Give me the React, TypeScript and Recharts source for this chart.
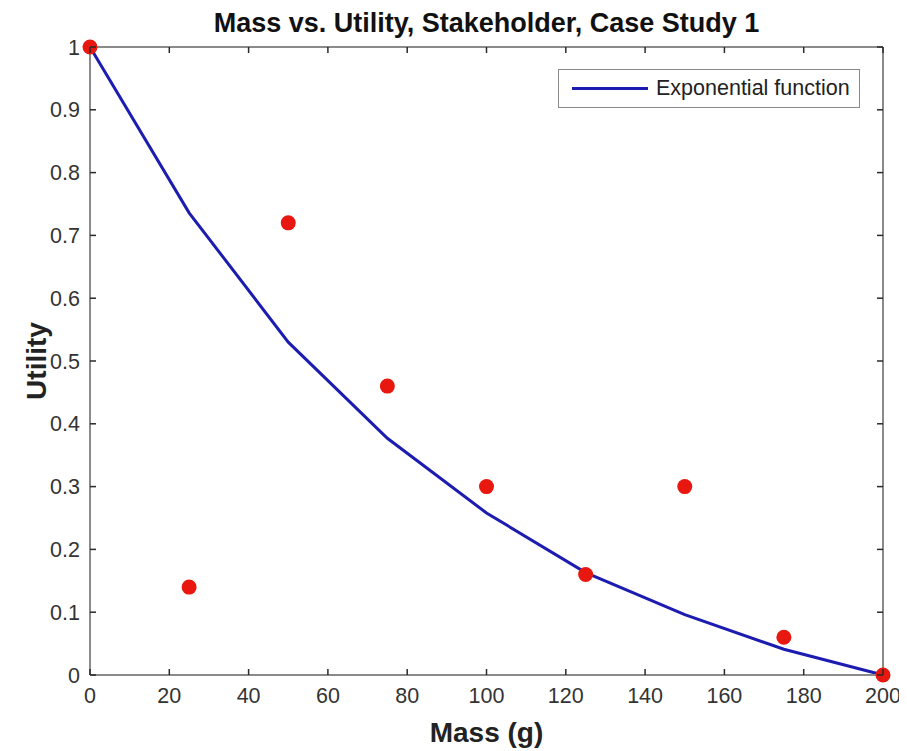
import React from 'react';
import {
  ComposedChart,
  Line,
  Scatter,
  XAxis,
  YAxis,
  Label,
} from 'recharts';

// survey answers and the fitted curve
const masses = [0, 25, 50, 75, 100, 125, 150, 175, 200];
const surveyUtility = [1, 0.14, 0.72, 0.46, 0.3, 0.16, 0.3, 0.06, 0];
const fittedUtility = [1, 0.736, 0.53, 0.377, 0.258, 0.163, 0.096, 0.041, 0];

const xTicks = [0, 20, 40, 60, 80, 100, 120, 140, 160, 180, 200];
const yTicks = [0, 0.1, 0.2, 0.3, 0.4, 0.5, 0.6, 0.7, 0.8, 0.9, 1];

const chartTitle = 'Mass vs. Utility, Stakeholder, Case Study 1';
const xLabel = 'Mass (g)';
const yLabel = 'Utility';
const legendLabel = 'Exponential function';

const survey = masses.map((m, i) => ({ mass: m, utility: surveyUtility[i] }));
const fitted = masses.map((m, i) => ({ mass: m, utility: fittedUtility[i] }));

const FONT = '"Liberation Sans", Arial, Helvetica, sans-serif';
const AXIS = '#8a8a8a';
const TICK = '#2a2a2a';
const TEXT = '#333333';
const BLUE = '#1c1cb0';
const RED = '#e8170f';
const TICK_LEN = 6;

const axisLine = { stroke: AXIS, strokeWidth: 2 };

// tick marks point into the plot box, like the MATLAB figure
const AxisTick = (props: any) => {
  const { x, y, payload, side } = props;
  const mark = { stroke: TICK, strokeWidth: 1.5 };
  if (side === 'bottom') {
    return (
      <g>
        <line x1={x} x2={x} y1={y} y2={y - TICK_LEN} {...mark} />
        <text x={x} y={y + 13} dy="0.71em" textAnchor="middle" fontSize={21.5} fill={TEXT}>
          {payload.value}
        </text>
      </g>
    );
  }
  if (side === 'left') {
    return (
      <g>
        <line x1={x} x2={x + TICK_LEN} y1={y} y2={y} {...mark} />
        <text x={x - 10} y={y} dy="0.355em" textAnchor="end" fontSize={21.5} fill={TEXT}>
          {payload.value}
        </text>
      </g>
    );
  }
  if (side === 'top') {
    return <line x1={x} x2={x} y1={y} y2={y + TICK_LEN} {...mark} />;
  }
  return <line x1={x} x2={x - TICK_LEN} y1={y} y2={y} {...mark} />;
};

const Dot = (props: any) => (
  <circle cx={props.cx} cy={props.cy} r={7.5} fill={RED} />
);

const LegendBox = () => (
  <div
    style={{
      position: 'absolute',
      left: 550,
      top: 61,
      width: 300,
      height: 37,
      border: `1.5px solid ${AXIS}`,
      background: '#fff',
      display: 'flex',
      alignItems: 'center',
      fontFamily: FONT,
      fontSize: 21.5,
      color: '#222',
    }}
  >
    <div style={{ width: 76, height: 3, background: BLUE, marginLeft: 13, marginRight: 8 }} />
    <span>{legendLabel}</span>
  </div>
);

export default function App() {
  return (
    <div style={{ position: 'relative', width: 899, height: 743 }}>
      <ComposedChart
        width={899}
        height={743}
        margin={{ top: 38, right: 23, bottom: 36, left: 22 }}
        style={{ fontFamily: FONT }}
      >
        <XAxis
          xAxisId={0}
          type="number"
          dataKey="mass"
          domain={[0, 200]}
          ticks={xTicks}
          interval={0}
          height={40}
          tickSize={0}
          tickMargin={0}
          axisLine={axisLine}
          tickLine={false}
          tick={(p: any) => <AxisTick {...p} side="bottom" />}
        >
          <Label
            content={(p: any) => (
              <text
                x={p.viewBox.x + p.viewBox.width / 2}
                y={p.viewBox.y + 67}
                textAnchor="middle"
                fontSize={28}
                fontWeight="bold"
                fill="#222"
              >
                {xLabel}
              </text>
            )}
          />
        </XAxis>
        <XAxis
          xAxisId="top"
          orientation="top"
          type="number"
          dataKey="mass"
          domain={[0, 200]}
          ticks={xTicks}
          interval={0}
          height={1}
          tickSize={0}
          tickMargin={0}
          axisLine={axisLine}
          tickLine={false}
          tick={(p: any) => <AxisTick {...p} side="top" />}
        >
          <Label
            content={(p: any) => (
              <text
                x={p.viewBox.x + p.viewBox.width / 2}
                y={p.viewBox.y - 14}
                textAnchor="middle"
                fontSize={27}
                fontWeight="bold"
                fill="#111"
              >
                {chartTitle}
              </text>
            )}
          />
        </XAxis>
        <YAxis
          yAxisId={0}
          type="number"
          domain={[0, 1]}
          ticks={yTicks}
          interval={0}
          width={60}
          tickSize={0}
          tickMargin={0}
          axisLine={axisLine}
          tickLine={false}
          tick={(p: any) => <AxisTick {...p} side="left" />}
        >
          <Label
            content={(p: any) => (
              <text
                x={p.viewBox.x + 9}
                y={p.viewBox.y + p.viewBox.height / 2}
                transform={`rotate(-90 ${p.viewBox.x + 9} ${p.viewBox.y + p.viewBox.height / 2})`}
                textAnchor="middle"
                dominantBaseline="middle"
                fontSize={28}
                fontWeight="bold"
                fill="#222"
              >
                {yLabel}
              </text>
            )}
          />
        </YAxis>
        <YAxis
          yAxisId="right"
          orientation="right"
          type="number"
          domain={[0, 1]}
          ticks={yTicks}
          interval={0}
          width={1}
          tickSize={0}
          tickMargin={0}
          axisLine={axisLine}
          tickLine={false}
          tick={(p: any) => <AxisTick {...p} side="right" />}
        />
        <Line
          data={fitted}
          dataKey="utility"
          type="linear"
          stroke={BLUE}
          strokeWidth={3}
          dot={false}
          activeDot={false}
          isAnimationActive={false}
        />
        {/* the survey points use the mirrored axes (same domains) so those axes get their ticks */}
        <Scatter
          data={survey}
          dataKey="utility"
          xAxisId="top"
          yAxisId="right"
          shape={Dot}
          isAnimationActive={false}
        />
      </ComposedChart>
      <LegendBox />
    </div>
  );
}
